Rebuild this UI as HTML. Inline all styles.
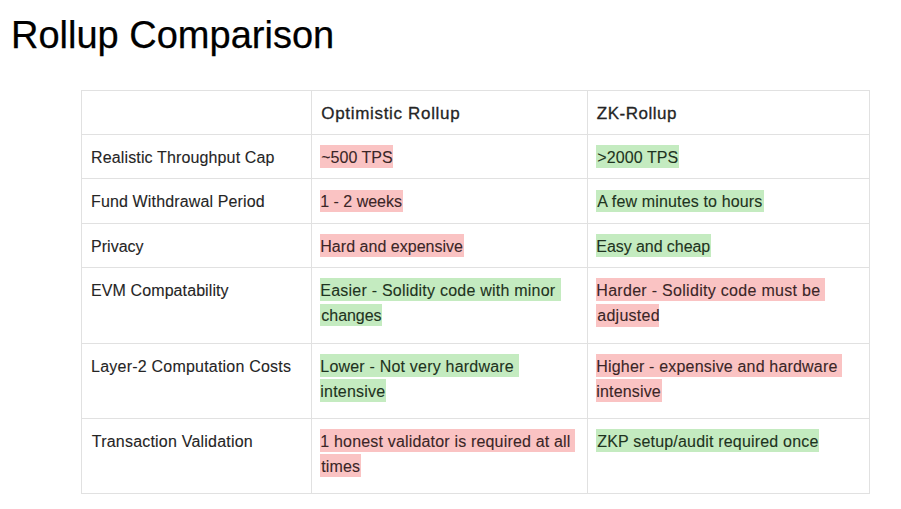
<!DOCTYPE html>
<html><head><meta charset="utf-8"><title>Rollup Comparison</title>
<style>
html,body{margin:0;padding:0;background:#fff;}
body{width:901px;height:509px;position:relative;overflow:hidden;font-family:"Liberation Sans",sans-serif;}
.t{position:absolute;white-space:nowrap;-webkit-text-stroke:0.1px #252525;font-size:16px;line-height:20px;color:#252525;}
.b{font-size:17px;font-weight:normal;-webkit-text-stroke:0.3px #252525;color:#252525;}
.h{position:absolute;}
.r{color:#3a2627;-webkit-text-stroke-color:#3a2627;}
.g{color:#1e3320;-webkit-text-stroke-color:#1e3320;}
.v{position:absolute;width:1px;background:#e1e1e1;}
.z{position:absolute;height:1px;background:#e1e1e1;}
#title{position:absolute;left:11px;top:12.5px;font-size:38px;line-height:44px;color:#000;white-space:nowrap;-webkit-text-stroke:0.25px #000;}
</style></head><body>
<div id="title">Rollup Comparison</div>
<div class="v" style="left:81px;top:90px;height:404px"></div>
<div class="v" style="left:311px;top:90px;height:404px"></div>
<div class="v" style="left:587px;top:90px;height:404px"></div>
<div class="v" style="left:869px;top:90px;height:404px"></div>
<div class="z" style="left:81px;top:90px;width:789px"></div>
<div class="z" style="left:81px;top:134px;width:789px"></div>
<div class="z" style="left:81px;top:178px;width:789px"></div>
<div class="z" style="left:81px;top:223px;width:789px"></div>
<div class="z" style="left:81px;top:267px;width:789px"></div>
<div class="z" style="left:81px;top:343px;width:789px"></div>
<div class="z" style="left:81px;top:418px;width:789px"></div>
<div class="z" style="left:81px;top:493px;width:789px"></div>
<div class="t b" style="left:321.30px;top:104.00px;letter-spacing:0.676px">Optimistic Rollup</div>
<div class="t b" style="left:596.80px;top:104.00px;letter-spacing:0.522px">ZK-Rollup</div>
<div class="t" style="left:91.10px;top:148.00px;letter-spacing:0.133px">Realistic Throughput Cap</div>
<div class="t" style="left:91.00px;top:192.00px;letter-spacing:0.141px">Fund Withdrawal Period</div>
<div class="t" style="left:91.10px;top:237.00px;letter-spacing:0.008px">Privacy</div>
<div class="t" style="left:91.10px;top:281.00px;letter-spacing:0.091px">EVM Compatability</div>
<div class="t" style="left:91.10px;top:357.00px;letter-spacing:0.214px">Layer-2 Computation Costs</div>
<div class="t" style="left:91.80px;top:432.00px;letter-spacing:0.208px">Transaction Validation</div>
<div class="h" style="left:320.3px;top:145.0px;width:72.8px;height:22.6px;background:#fac3c3"></div>
<div class="t r" style="left:321.20px;top:148.00px;letter-spacing:0.024px">~500 TPS</div>
<div class="h" style="left:320.3px;top:190.0px;width:82.5px;height:22.0px;background:#fac3c3"></div>
<div class="t r" style="left:320.20px;top:192.00px;letter-spacing:-0.001px">1 - 2 weeks</div>
<div class="h" style="left:320.4px;top:234.3px;width:143.5px;height:22.4px;background:#fac3c3"></div>
<div class="t r" style="left:320.30px;top:237.00px;letter-spacing:0.023px">Hard and expensive</div>
<div class="h" style="left:320.4px;top:278.3px;width:240.2px;height:22.5px;background:#c4ebc0"></div>
<div class="t g" style="left:320.30px;top:281.00px;letter-spacing:0.225px">Easier - Solidity code with minor</div>
<div class="h" style="left:320.4px;top:303.8px;width:62.0px;height:22.5px;background:#c4ebc0"></div>
<div class="t g" style="left:321.30px;top:306.00px;letter-spacing:-0.032px">changes</div>
<div class="h" style="left:320.4px;top:353.8px;width:198.2px;height:23.4px;background:#c4ebc0"></div>
<div class="t g" style="left:320.30px;top:357.00px;letter-spacing:0.203px">Lower - Not very hardware</div>
<div class="h" style="left:320.4px;top:378.8px;width:65.6px;height:23.2px;background:#c4ebc0"></div>
<div class="t g" style="left:320.30px;top:382.00px;letter-spacing:0.206px">intensive</div>
<div class="h" style="left:320.4px;top:429.3px;width:254.2px;height:22.6px;background:#fac3c3"></div>
<div class="t r" style="left:320.30px;top:432.00px;letter-spacing:0.177px">1 honest validator is required at all</div>
<div class="h" style="left:320.4px;top:454.4px;width:40.4px;height:22.6px;background:#fac3c3"></div>
<div class="t r" style="left:321.30px;top:457.00px;letter-spacing:0.118px">times</div>
<div class="h" style="left:596.4px;top:145.0px;width:82.3px;height:22.6px;background:#c4ebc0"></div>
<div class="t g" style="left:597.30px;top:148.00px;letter-spacing:0.096px">&gt;2000 TPS</div>
<div class="h" style="left:596.4px;top:190.0px;width:167.6px;height:22.0px;background:#c4ebc0"></div>
<div class="t g" style="left:597.30px;top:192.00px;letter-spacing:0.150px">A few minutes to hours</div>
<div class="h" style="left:596.4px;top:234.3px;width:114.7px;height:22.4px;background:#c4ebc0"></div>
<div class="t g" style="left:596.30px;top:237.00px;letter-spacing:-0.066px">Easy and cheap</div>
<div class="h" style="left:596.4px;top:278.3px;width:228.6px;height:22.5px;background:#fac3c3"></div>
<div class="t r" style="left:596.30px;top:281.00px;letter-spacing:0.296px">Harder - Solidity code must be</div>
<div class="h" style="left:596.4px;top:304.0px;width:63.1px;height:22.8px;background:#fac3c3"></div>
<div class="t r" style="left:597.30px;top:306.00px;letter-spacing:0.258px">adjusted</div>
<div class="h" style="left:596.4px;top:353.8px;width:245.8px;height:23.4px;background:#fac3c3"></div>
<div class="t r" style="left:596.30px;top:357.00px;letter-spacing:0.177px">Higher - expensive and hardware</div>
<div class="h" style="left:596.4px;top:378.8px;width:65.2px;height:23.2px;background:#fac3c3"></div>
<div class="t r" style="left:596.30px;top:382.00px;letter-spacing:0.156px">intensive</div>
<div class="h" style="left:596.4px;top:429.0px;width:223.1px;height:22.8px;background:#c4ebc0"></div>
<div class="t g" style="left:597.30px;top:432.00px;letter-spacing:0.184px">ZKP setup/audit required once</div>
</body></html>
